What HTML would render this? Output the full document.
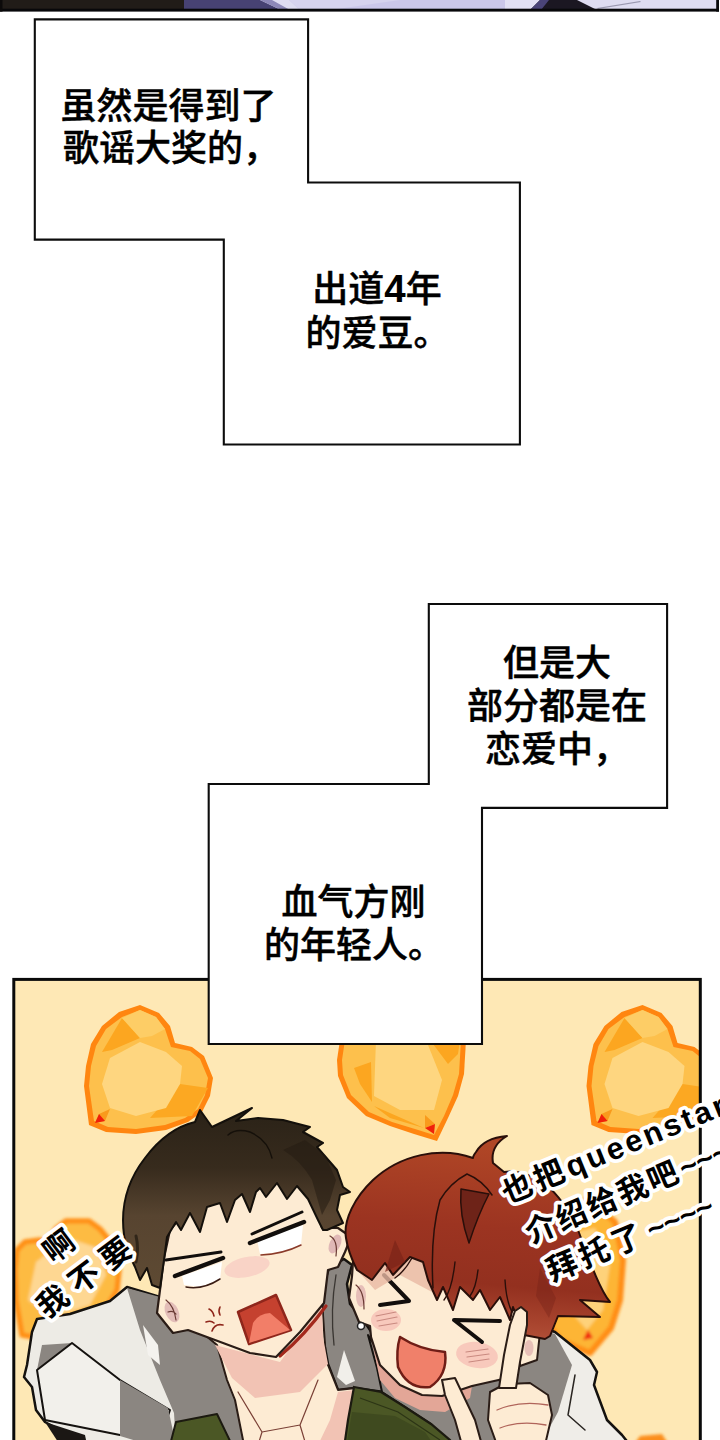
<!DOCTYPE html>
<html lang="zh-CN">
<head>
<meta charset="utf-8">
<title>page</title>
<style>
html,body{margin:0;padding:0;background:#fff;}
body{width:720px;height:1440px;overflow:hidden;position:relative;}
svg{position:absolute;left:0;top:0;display:block;}
.t{font-family:"Liberation Sans","Noto Sans CJK SC",sans-serif;font-weight:500;font-size:36px;fill:#000;stroke:#000;stroke-width:.45px;text-anchor:middle;}
.s{font-family:"Liberation Sans","Noto Sans CJK SC",sans-serif;font-weight:700;fill:#000;stroke:#fff;stroke-width:7.5px;paint-order:stroke fill;stroke-linejoin:round;}
</style>
</head>
<body>
<svg width="720" height="1440" viewBox="0 0 720 1440">
<!-- top strip -->
<g id="topstrip">
<rect x="0" y="0" width="718" height="10" fill="#dedcf1"/>
<polygon points="289,0 505,0 505,10 300,10" fill="#cbc7ea"/>
<polygon points="505,0 540,0 530,10 505,10" fill="#e2e0f4"/>
<polygon points="289,0 400,0 330,10 300,10" fill="#d6d3ee"/>
<rect x="0" y="0" width="184" height="10" fill="#211c18"/>
<polygon points="184,0 260,0 281,10 184,10" fill="#474273"/>
<polygon points="260,0 272,0 290,10 281,10" fill="#8d88b8"/>
<polygon points="540,0 577,0 597,10 530,10" fill="#1b1722"/>
<polygon points="540,0 549,0 541,10 530,10" fill="#4a4478"/>
<polygon points="597,8 640,1 641,2 598,9" fill="#9a98b0"/>
<rect x="0" y="8.7" width="719" height="2.9" fill="#08080a"/>
<rect x="716.2" y="0" width="2.8" height="11.6" fill="#08080a"/>
<rect x="0" y="0" width="2.5" height="11.6" fill="#0c0a0a"/>
</g>
<!-- panel (illustration) -->
<defs>
<clipPath id="panelclip"><rect x="13.8" y="979.4" width="686.5" height="470"/></clipPath>
<filter id="blur2" x="-10%" y="-10%" width="120%" height="120%"><feGaussianBlur stdDeviation="1.6"/></filter>
<linearGradient id="dhair" x1="0" y1="0" x2="0" y2="1"><stop offset="0" stop-color="#2a2217"/><stop offset="0.33" stop-color="#372b1d"/><stop offset="0.6" stop-color="#574430"/><stop offset="1" stop-color="#5e4a33"/></linearGradient>
<linearGradient id="rhair" x1="0.1" y1="0" x2="0" y2="1"><stop offset="0" stop-color="#b04626"/><stop offset="0.4" stop-color="#9c3421"/><stop offset="0.68" stop-color="#93301f"/><stop offset="0.85" stop-color="#a8442e"/><stop offset="1" stop-color="#b9583f"/></linearGradient>
</defs>
<g id="panel">
<rect x="13.8" y="979.4" width="686.5" height="470" fill="#fee8b5"/>
<g clip-path="url(#panelclip)">
<!-- hearts -->
<g transform="translate(80,1000)">
<polygon points="9,125 4,86 6,66 11,44 22,26 39,12 60,5 79,13 90,26 95,43 112,47 124,56 133,78 130,96 122,112 108,122 86,130 56,134 26,132" fill="#ff8610"/>
<polygon points="14,121 9,86 11,66 16,46 26,29 42,17 60,10 76,17 85,29 91,47 110,51 120,59 128,78 125,95 118,109 105,118 85,125 56,129 28,127" fill="#fdc04c"/>
<polygon points="22,52 42,18 60,38 32,50" fill="#fca620"/>
<polygon points="42,18 60,10 76,17 85,29 72,36 60,38" fill="#fdcd66"/>
<polygon points="100,84 128,88 112,116 70,118" fill="#fca822"/>
<polygon points="30,58 60,42 86,52 102,66 100,84 86,108 56,116 30,108 22,84" fill="#fed680"/>
<polygon points="15,123 19,114 30,109 25,121" fill="#f99a1c"/>
<polygon points="15,123 19,114 25,121" fill="#f0200a"/>
</g>
<g transform="translate(582.5,1000)">
<polygon points="9,125 4,86 6,66 11,44 22,26 39,12 60,5 79,13 90,26 95,43 112,47 124,56 133,78 130,96 122,112 108,122 86,130 56,134 26,132" fill="#ff8610"/>
<polygon points="14,121 9,86 11,66 16,46 26,29 42,17 60,10 76,17 85,29 91,47 110,51 120,59 128,78 125,95 118,109 105,118 85,125 56,129 28,127" fill="#fdc04c"/>
<polygon points="22,52 42,18 60,38 32,50" fill="#fca620"/>
<polygon points="42,18 60,10 76,17 85,29 72,36 60,38" fill="#fdcd66"/>
<polygon points="100,84 128,88 112,116 70,118" fill="#fca822"/>
<polygon points="30,58 60,42 86,52 102,66 100,84 86,108 56,116 30,108 22,84" fill="#fed680"/>
<polygon points="15,123 19,114 30,109 25,121" fill="#f99a1c"/>
<polygon points="15,123 19,114 25,121" fill="#f0200a"/>
</g>
<g id="heart2">
<polygon points="340,1040 337,1060 338,1076 347,1098 366,1116 390,1126 414,1134 437,1141 448,1118 458,1096 464,1074 466,1040" fill="#ff8610"/>
<polygon points="345,1040 342,1060 343,1075 351,1095 369,1112 392,1122 415,1129 434,1135 444,1116 453,1095 459,1074 461,1040" fill="#fdc04c"/>
<polygon points="430,1040 460,1040 458,1054 448,1064" fill="#fca620"/>
<polygon points="354,1068 371,1062 372,1102 360,1084" fill="#fca620"/>
<polygon points="374,1106 424,1128 390,1118" fill="#fca620"/>
<polygon points="376,1040 426,1040 442,1080 434,1110 400,1110 374,1096" fill="#fed680"/>
<polygon points="425,1115 435,1124 425,1128" fill="#f99a1c"/>
<polygon points="425,1128 435,1124 434,1134" fill="#f0200a"/>
</g>
<!-- blurred lower hearts -->
<g filter="url(#blur2)">
<polygon points="17,1250 25,1242 40,1240 48,1243 56,1229 66,1221 89,1221 100,1229 113,1245 119,1270 117,1290 108,1305 80,1325 40,1338 22,1335 16,1300 15,1270" fill="#fdbb42" stroke="#ff9118" stroke-width="5.5" stroke-linejoin="round"/>
<polygon points="36,1262 68,1238 98,1248 106,1275 90,1305 50,1318 28,1300" fill="#fed792"/>
<polygon points="540,1210 590,1200 615,1222 623,1260 620,1300 611,1328 590,1353 560,1340 530,1300" fill="#fdb536" stroke="#ff8e14" stroke-width="6" stroke-linejoin="round"/>
<polygon points="560,1235 595,1228 610,1265 603,1310 587,1330 560,1300" fill="#fed27a"/>
<polygon points="583,1340 588,1330 593,1338" fill="#f0200a"/>
<polygon points="630,1450 640,1436 662,1434 672,1450" fill="#fb8e1c"/>
</g>
<!-- dark-haired guy -->
<g id="darkguy" stroke-linejoin="round" stroke-linecap="round">
<!-- left sleeve / hood (light) -->
<polygon points="37,1319 70,1314 110,1301 127,1287 160,1297 185,1320 200,1332 217,1345 232,1400 262,1445 87,1445 45,1422 36,1410 32,1387 24,1377 27,1365 32,1332" fill="#edebe5" stroke="#15120f" stroke-width="2.5"/>
<polygon points="127,1288 160,1297 190,1318 217,1345 228,1380 236,1400 245,1445 176,1445 174,1413 160,1380 140,1330" fill="#8b8681"/>
<polygon points="42,1345 72,1343 37,1370" fill="#8b8681"/>
<polygon points="72,1343 120,1380 170,1410 165,1425 120,1435 45,1420 37,1370" fill="#f2f0eb" stroke="#15120f" stroke-width="2"/>
<polygon points="120,1380 168,1408 176,1445 150,1445 120,1436" fill="#8b8681"/>
<polygon points="143,1325 158,1345 160,1365 148,1355" fill="#f4f2ee"/>
<polygon points="45,1422 85,1435 87,1445 60,1445" fill="#1b1714"/>
<!-- hood right of face -->
<polygon points="344,1259 352,1265 347,1284 350,1304 362,1318 374,1336 380,1368 384,1392 354,1388 338,1390 328,1364 323,1337 322,1307 326,1278 329,1268" fill="#8b8681" stroke="#15120f" stroke-width="2.5"/>
<polygon points="344,1350 355,1381 346,1385 337,1377" fill="#f1efea"/>
<path d="M336,1275 Q330,1310 334,1345" stroke="#3a3632" stroke-width="1.3" fill="none"/>
<!-- neck & chest -->
<polygon points="205,1335 217,1345 227,1380 235,1400 244,1445 350,1445 356,1388 338,1390 326,1360 322,1300 300,1330" fill="#fdebd3" stroke="#2a1c16" stroke-width="2"/>
<polygon points="215,1345 280,1362 322,1305 323,1337 328,1364 300,1392 255,1398 232,1378" fill="#f2c3b4"/>
<polygon points="338,1392 355,1390 348,1445 318,1445 330,1420" fill="#f2c3b4"/>
<path d="M280,1356 Q305,1335 326,1306" stroke="#a3281c" stroke-width="3.2" fill="none"/>
<path d="M238,1392 L262,1432 L258,1445 M262,1432 L300,1425 M318,1380 L300,1425 L306,1445" stroke="#7a4036" stroke-width="1.2" fill="none"/>
<!-- green jacket bits -->
<polygon points="176,1422 217,1414 232,1445 170,1445" fill="#4b5725" stroke="#1c1a10" stroke-width="2"/>
<!-- face -->
<path d="M160,1290 L164,1258 L170,1230 L200,1195 L260,1180 L310,1180 L322,1228 L338,1228 L351,1237 L345,1252 L338,1267 L328,1270 L324,1303 L300,1332 L276,1357 L250,1353 L215,1340 L188,1330 L173,1333 L157,1313 Z" fill="#fdebd3" stroke="#2a1c16" stroke-width="2.2"/>
<!-- ears inner -->
<ellipse cx="172" cy="1312" rx="6.5" ry="11" fill="#e3bdb8" transform="rotate(-25 172 1312)"/>
<path d="M166,1300 q8,6 10,20 M168,1312 q5,-2 8,2" stroke="#6a3a34" stroke-width="1.2" fill="none"/>
<ellipse cx="335" cy="1244" rx="5.5" ry="10" fill="#e0b8b6" transform="rotate(25 335 1244)"/>
<path d="M330,1236 q8,4 6,20" stroke="#6a3a34" stroke-width="1.2" fill="none"/>
<!-- blush -->
<ellipse cx="247" cy="1267" rx="23" ry="10" fill="#f9d3c6" transform="rotate(-12 247 1267)"/>
<!-- eyes -->
<polygon points="182,1276 222,1262 220,1280 200,1287 184,1285" fill="#fff"/>
<polygon points="257,1240 303,1225 301,1245 282,1252 260,1254" fill="#fff"/>
<path d="M175,1276 L223,1258" stroke="#120e0c" stroke-width="4.5" fill="none"/>
<path d="M166,1260 L221,1252" stroke="#120e0c" stroke-width="3" fill="none"/>
<path d="M186,1287 Q203,1290 220,1279" stroke="#3a1c14" stroke-width="1.5" fill="none"/>
<path d="M250,1243 L304,1222" stroke="#120e0c" stroke-width="4.5" fill="none"/>
<path d="M252,1234 L302,1212" stroke="#120e0c" stroke-width="3" fill="none"/>
<path d="M261,1255 Q283,1254 301,1245" stroke="#8a3a2a" stroke-width="1.5" fill="none"/>
<!-- mouth -->
<polygon points="238,1312 276,1295 291,1330 249,1344" fill="#c5412f" stroke="#8f261b" stroke-width="2.5"/>
<path d="M249,1343 L253,1323 Q258,1314 270,1313 L290,1330 Z" fill="#f27e68"/>
<!-- anger mark -->
<path d="M209,1309 q4,2 5,7 M220,1307 q-2,4 0,8 M206,1322 q5,-2 8,1 M212,1331 q3,-8 11,-6"  stroke="#8f261b" stroke-width="1.6" fill="none"/>
<!-- hair -->
<path d="M200,1110 L212,1127 L252,1108 L236,1121 L258,1118 L283,1120 L310,1127 L303,1132 L323,1143 L317,1147 L337,1170 L343,1187 L350,1192 L340,1195 L337,1210 L343,1223 L327,1230 L323,1230
 L318,1220 L308,1199 L297,1186 L287,1199 L277,1183 L266,1197 L260,1188 L256,1192 L250,1212 L242,1194 L235,1200 L227,1222 L220,1203 L207,1207 L200,1232 L190,1213 L181,1230 L176,1222 L167,1237 L164,1260 L160,1288
 L152,1285 L147,1268 L140,1280 L135,1267 L127,1250 C118,1215 124,1185 145,1158 C160,1138 178,1126 195,1122 Z" fill="url(#dhair)" stroke="#14100b" stroke-width="2"/>
<path d="M283,1150 Q300,1160 312,1180 L322,1215 L330,1200 L336,1180 L325,1155 L305,1140 Z" fill="#241c12" opacity="0.55"/>
<path d="M228,1135 Q236,1128 250,1132 Q268,1140 272,1158" stroke="#15100a" stroke-width="1.4" fill="none"/>
<path d="M136,1262 q3,-14 0,-26" stroke="#15100a" stroke-width="3" fill="none" opacity="0.6"/>
</g>
<!-- red-haired guy -->
<g id="redguy" stroke-linejoin="round" stroke-linecap="round">
<!-- white hoodie right -->
<polygon points="535,1325 555,1332 590,1360 597,1372 594,1385 607,1420 622,1435 630,1445 480,1445 500,1380" fill="#efede8" stroke="#15120f" stroke-width="2.5"/>
<polygon points="535,1328 555,1334 572,1365 558,1412 540,1445 490,1445 500,1385" fill="#8b8681"/>
<path d="M575,1375 L568,1415 L585,1430" stroke="#2a2622" stroke-width="1.5" fill="none"/>
<!-- grey shirt under chin -->
<polygon points="368,1335 377,1368 382,1392 405,1407 431,1424 452,1445 495,1445 505,1385 495,1377 442,1397 400,1385" fill="#8b8681" stroke="#15120f" stroke-width="2"/>
<polygon points="371,1337 380,1365 400,1385 422,1395 442,1396 472,1386 470,1398 445,1412 420,1410 395,1398 380,1380" fill="#e3a697"/>
<!-- face -->
<path d="M353,1262 L360,1235 L420,1225 L500,1270 L520,1320 L512,1352 L503,1379 L472,1386 L442,1396 L422,1395 L400,1385 L380,1365 L371,1337 L370,1326 L359,1322 L349,1298 L352,1276 Z" fill="#fdebd3" stroke="#2a1c16" stroke-width="2.2"/>
<!-- right ear -->
<polygon points="518,1332 540,1332 537,1360 520,1366" fill="#fdebd3" stroke="#2a1c16" stroke-width="2"/>
<ellipse cx="529" cy="1348" rx="4.5" ry="8" fill="#e8c0b8"/>
<ellipse cx="361" cy="1296" rx="5" ry="11" fill="#e6beb8"/>
<path d="M356,1285 q8,6 8,24" stroke="#6a3a34" stroke-width="1.2" fill="none"/>
<circle cx="361" cy="1326" r="3.5" fill="#fff" stroke="#222" stroke-width="1.5"/>
<!-- blush -->
<ellipse cx="386" cy="1320" rx="15" ry="11" fill="#f8c9bc"/>
<ellipse cx="477" cy="1355" rx="21" ry="13" fill="#f8c9bc" transform="rotate(8 477 1355)"/>
<path d="M376,1316 l20,-4 M377,1321 l20,-4 M379,1326 l18,-3 M466,1352 l22,-3 M467,1357 l22,-3 M469,1362 l20,-3" stroke="#c98a80" stroke-width="1.2" fill="none"/>
<!-- eyes -->
<path d="M384,1275 L409,1301 L380,1305" stroke="#120e0c" stroke-width="4" fill="none"/>
<path d="M500,1321 L454,1320 L482,1342" stroke="#120e0c" stroke-width="4" fill="none"/>
<!-- mouth -->
<path d="M400,1337 Q420,1350 445,1352 Q448,1375 430,1387 Q408,1390 398,1367 Q396,1350 400,1337 Z" fill="#f0806a" stroke="#6f1d16" stroke-width="2.5"/>
<path d="M357,1270 L372,1280 L385,1263 L393,1275 L410,1257 L423,1262 L428,1280 L432,1292 L400,1275 L375,1290 Z" fill="#e9b9a4" opacity="0.8"/>
<!-- hair -->
<path d="M507,1136 Q484,1138 476,1152 Q473,1156 473,1158 C440,1146 400,1155 373,1180 C355,1197 343,1220 346,1238 C348,1252 353,1262 357,1270
 L372,1280 L385,1263 L393,1275 L410,1257 L423,1262 L428,1280 L437,1300 L443,1287 L453,1310 L460,1287 L473,1300 L480,1290 L490,1310 L500,1297 L510,1320 L513,1307 L524,1335 L545,1339 L550,1336 L558,1316 L600,1317 L580,1300 L610,1302 C600,1290 590,1262 578,1230 C570,1212 560,1196 545,1184 C530,1174 515,1170 504,1172 L493,1163 Q490,1146 507,1136 Z" fill="url(#rhair)" stroke="#2a0f0a" stroke-width="2"/>
<!-- hair inner tuft shadow -->
<path d="M461,1189 L489,1194 Q478,1215 469,1243 Q459,1215 461,1189 Z" fill="#6e2318" stroke="#2a0f0a" stroke-width="1.5"/>
<path d="M492,1195 Q482,1180 467,1174 Q450,1183 440,1200 Q430,1235 433,1288" stroke="#2a0f0a" stroke-width="1.5" fill="none"/>
<polygon points="395,1240 405,1262 385,1272" fill="#7a2418" opacity="0.7"/>
<polygon points="540,1268 556,1298 549,1318 536,1296" fill="#6f2016" opacity="0.35"/>
<path d="M412,1258 Q404,1272 395,1278 M455,1262 Q452,1290 444,1300 M478,1270 Q476,1288 470,1296 M505,1280 Q506,1300 512,1312" stroke="#2a0f0a" stroke-width="1.4" fill="none"/>
<!-- hand -->
<polygon points="442,1380 455,1378 475,1420 482,1445 462,1445 455,1420 445,1395" fill="#fdebd3" stroke="#2a1c16" stroke-width="2"/>
<polygon points="490,1392 505,1384 530,1383 548,1395 552,1415 545,1445 497,1445 488,1420" fill="#fdebd3" stroke="#2a1c16" stroke-width="2"/>
<polygon points="515,1311 521,1307 527,1312 527,1325 520,1362 516,1388 499,1388 504,1355 510,1325" fill="#fdebd3" stroke="#2a1c16" stroke-width="2"/>
<path d="M497,1410 Q520,1400 548,1405 M500,1428 Q520,1420 546,1425" stroke="#b0645a" stroke-width="1.3" fill="none"/>
</g>
<!-- green jacket -->
<polygon points="354,1387 381,1392 405,1407 431,1424 450,1440 455,1448 344,1448 348,1420" fill="#4b5725" stroke="#1c1a10" stroke-width="2.2"/>
<polygon points="352,1412 395,1416 425,1432 436,1448 346,1448" fill="#3f4a1f"/>
<path d="M360,1398 L398,1412 L440,1440" stroke="#2c3415" stroke-width="1.2" fill="none"/>
</g>
<rect x="13.8" y="979.4" width="686.5" height="470" fill="none" stroke="#0a0a0a" stroke-width="3"/>
</g>
<!-- rotated shout text -->
<g class="s" font-size="30.5">
<text transform="translate(53,1264) rotate(-37)" letter-spacing="4">啊</text>
<text transform="translate(47,1319) rotate(-37)" letter-spacing="9">我不要</text>
<text transform="translate(507,1204) rotate(-22.3)"><tspan letter-spacing="4">也把</tspan><tspan letter-spacing="3">queenstar</tspan></text>
<text transform="translate(531,1244) rotate(-23)"><tspan letter-spacing="2.6">介绍给我吧</tspan><tspan letter-spacing="-0.5" dx="1">~~~</tspan></text>
<text transform="translate(552,1282) rotate(-22.5)"><tspan letter-spacing="4.5">拜托了</tspan><tspan letter-spacing="-0.5" dx="3">~~~~</tspan></text>
</g>
<!-- caption boxes -->
<polygon points="34.8,19.4 308.1,19.4 308.1,182.5 519.9,182.5 519.9,444.5 223.8,444.5 223.8,239.6 34.8,239.6" fill="#fff" stroke="#0c0c0c" stroke-width="2.1"/>
<polygon points="428.8,604 667.1,604 667.1,807.9 482,807.9 482,1044 208.7,1044 208.7,784 428.8,784" fill="#fff" stroke="#0c0c0c" stroke-width="2.1"/>
<text class="t" x="168.5" y="119">虽然是得到了</text>
<text class="t" x="171" y="161">歌谣大奖的，</text>
<text class="t" x="377" y="302">出道<tspan font-weight="700" font-size="38.5" stroke="none">4</tspan>年</text>
<text class="t" x="377.5" y="346">的爱豆。</text>
<text class="t" x="557" y="676">但是大</text>
<text class="t" x="557" y="719">部分都是在</text>
<text class="t" x="557" y="762">恋爱中，</text>
<text class="t" x="353.5" y="915">血气方刚</text>
<text class="t" x="354" y="958">的年轻人。</text>
</svg>
</body>
</html>
